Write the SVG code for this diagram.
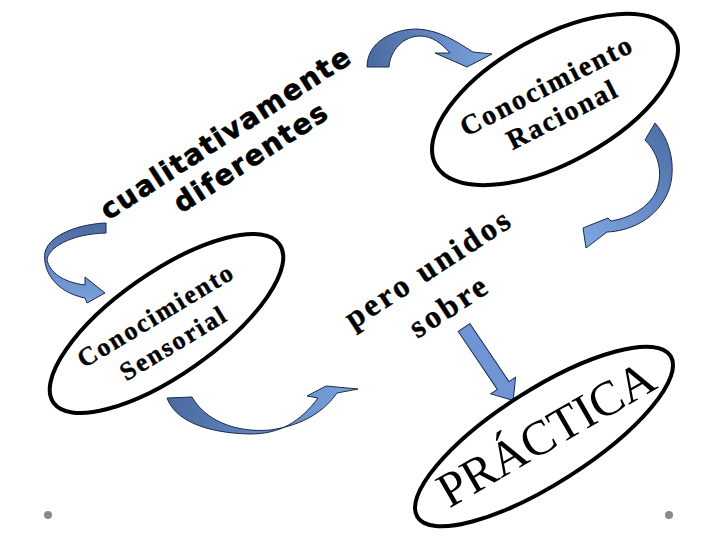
<svg xmlns="http://www.w3.org/2000/svg" width="720" height="540" viewBox="0 0 720 540">
<defs>
<linearGradient id="gH" x1="0" y1="0" x2="1" y2="0">
<stop offset="0" stop-color="#4a6aa0"/><stop offset="1" stop-color="#7ca3e0"/>
</linearGradient>
<linearGradient id="gV" x1="0" y1="0" x2="0" y2="1">
<stop offset="0" stop-color="#4a6aa0"/><stop offset="1" stop-color="#7ca3e0"/>
</linearGradient>
<linearGradient id="gB" x1="0.8" y1="0" x2="0.2" y2="1">
<stop offset="0" stop-color="#4f70a8"/><stop offset="1" stop-color="#7ca3e0"/>
</linearGradient>
<style>
.node{fill:#fff;stroke:#000;stroke-width:4}
.arr{stroke:#1c2a48;stroke-width:1;stroke-linejoin:miter}
.st{font-family:"Liberation Serif",serif;font-weight:bold;fill:#000;stroke:#000;stroke-width:0.4;text-anchor:middle}
.sans{font-family:"DejaVu Sans",sans-serif;font-weight:bold;fill:#000;stroke:#000;stroke-width:0.6}
</style>
</defs>
<rect width="720" height="540" fill="#fff"/>

<g id="connectors">
<path class="arr" fill="url(#gH)" d="M367,67 C367,42 393,29 417,29 C440,30 457,42 473,52 L492,54 L467,67 L435,53 L450,53 C441,43 432,36 420,36 C404,36 390,50 389,67 Z"/>
<path class="arr" fill="url(#gB)" d="M655,123 C675,145 677,180 664,200 C652,220 630,231 607,232 L586,248 L583,228 L608,218 L611,221 C630,218 648,208 656,192 C663,175 660,155 645,140 Z"/>
<path class="arr" fill="url(#gV)" d="M106,223 C80,224 50,234 45,252 C42,270 55,292 85,298 L87,303 L105,293 L85,277 L85,285 C62,282 50,272 47,260 C48,248 70,234 106,233 Z"/>
<path class="arr" fill="url(#gH)" d="M167,398 C175,420 205,433 250,434 C280,434 300,422 318,398 L307,396 L326,386 L358,389 L337,393 C325,410 305,425 270,430 C235,433 205,420 192,397 Z"/>
<path class="arr" fill="#6f95d6" transform="translate(464,327.5) rotate(56)" d="M0,-7 L70,-7 L70,-15 L88,0 L70,15 L70,7 L0,7 Z"/>
</g>

<g id="sensorial">
<ellipse class="node" cx="0" cy="0" rx="138" ry="51" transform="translate(166.5,323.5) rotate(-35)"/>
<g transform="translate(166.5,323.5) rotate(-31)">
<text class="st" x="-5" y="-4" font-size="26" letter-spacing="2">Conocimiento</text>
<text class="st" x="-4" y="29" font-size="26" letter-spacing="2">Sensorial</text>
</g>
</g>

<g id="racional">
<ellipse class="node" cx="0" cy="0" rx="136" ry="63" transform="translate(555,99.5) rotate(-28.8)"/>
<g transform="translate(555,99.5) rotate(-27)">
<text class="st" x="-1" y="-7" font-size="28" letter-spacing="2">Conocimiento</text>
<text class="st" x="0" y="26" font-size="28" letter-spacing="2">Racional</text>
</g>
</g>

<g id="practica">
<ellipse class="node" cx="0" cy="0" rx="150" ry="47" transform="translate(544,436.5) rotate(-32.5)"/>
<text font-family="Liberation Serif,serif" font-size="49" text-anchor="middle" x="3" y="15" transform="translate(544,436.5) rotate(-30)">PRÁCTICA</text>
</g>

<g id="label-cualitativamente" transform="translate(231,141) rotate(-33)">
<text class="sans" x="0" y="0" font-size="28" letter-spacing="1.6" text-anchor="middle">cualitativamente</text>
<text class="sans" x="8" y="34" font-size="28" letter-spacing="1.6" text-anchor="middle">diferentes</text>
</g>

<g id="label-unidos" transform="translate(434,277) rotate(-33)">
<text class="st" x="0" y="0" font-size="32" letter-spacing="3">pero unidos</text>
<text class="st" x="-3" y="43" font-size="32" letter-spacing="3">sobre</text>
</g>

<circle cx="48" cy="515" r="4" fill="#8a8a8a"/>
<circle cx="669" cy="515" r="4" fill="#8a8a8a"/>
</svg>
